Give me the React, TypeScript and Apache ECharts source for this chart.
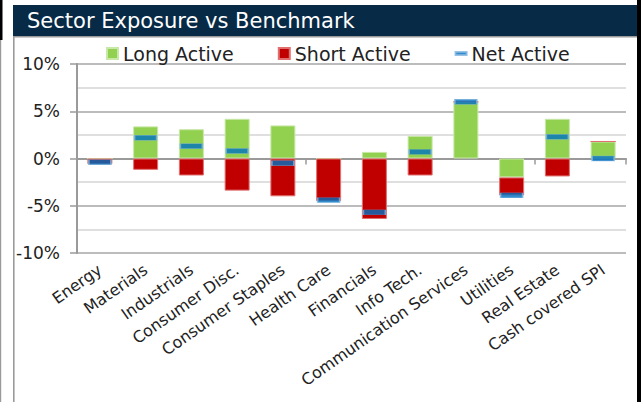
import React, { useEffect, useRef } from "react";
import * as echarts from "echarts";

const categories = [
  "Energy",
  "Materials",
  "Industrials",
  "Consumer Disc.",
  "Consumer Staples",
  "Health Care",
  "Financials",
  "Info Tech.",
  "Communication Services",
  "Utilities",
  "Real Estate",
  "Cash covered SPI",
];
const longActive = [0, 3.4, 3.1, 4.2, 3.5, 0, 0.7, 2.4, 6.0, -2.0, 4.2, 1.8];
const shortActive = [-0.6, -1.2, -1.8, -3.4, -4.0, -4.5, -6.4, -1.8, 0, -1.9, -1.9, 0];
const netActive = [-0.4, 2.2, 1.3, 0.8, -0.5, -4.4, -5.7, 0.7, 6.0, -3.9, 2.3, 0.0];
const yTicks = [-10, -5, 0, 5, 10];

const FONT = "'DejaVu Sans', sans-serif";

export default function App() {
  const ref = useRef<HTMLDivElement>(null);
  useEffect(() => {
    if (!ref.current) return;
    const chart = echarts.init(ref.current, undefined, { renderer: "svg" });
    chart.setOption({
      animation: false,
      backgroundColor: "#ffffff",
      textStyle: { fontFamily: FONT },
      graphic: [
        { type: "rect", shape: { x: 0, y: 0, width: 2.5, height: 40 }, style: { fill: "#000" } },
        { type: "rect", shape: { x: 0, y: 40, width: 1.2, height: 362 }, style: { fill: "#9a9a9a" } },
        { type: "rect", shape: { x: 13, y: 36, width: 1.6, height: 366 }, style: { fill: "#9a9a9a" } },
        { type: "rect", shape: { x: 13, y: 36, width: 624, height: 1.6 }, style: { fill: "#9a9a9a" } },
        { type: "rect", shape: { x: 13, y: 5, width: 624, height: 31 }, style: { fill: "#072a46" } },
        { type: "rect", shape: { x: 637, y: 0, width: 4, height: 402 }, style: { fill: "#000" } },
        {
          type: "text",
          x: 27,
          y: 21,
          style: {
            text: "Sector Exposure vs Benchmark",
            fill: "#ffffff",
            font: `normal 21px ${FONT}`,
            verticalAlign: "middle",
          },
        },
      ],
      legend: {
        left: 101,
        top: 39,
        itemGap: 44,
        itemWidth: 11,
        itemHeight: 11,
        textStyle: { fontSize: 19, color: "#222", fontFamily: FONT, padding: [0, 0, 0, 0] },
        data: [
          { name: "Long Active", icon: "rect" },
          { name: "Short Active", icon: "rect" },
          { name: "Net Active", icon: "path://M0,0 M10,10 M0,3.7 L10,3.7 L10,6.3 L0,6.3 Z" },
        ],
      },
      grid: { left: 77, right: 15, top: 64, bottom: 149, containLabel: false },
      xAxis: [
        {
          type: "category",
          data: categories,
          axisLine: { onZero: true, lineStyle: { color: "#9a9a9a", width: 2 } },
          axisTick: { show: true, length: 6, lineStyle: { color: "#9a9a9a", width: 1.5 } },
          axisLabel: { show: false },
        },
        {
          type: "category",
          data: categories,
          position: "bottom",
          axisLine: { show: false, onZero: false },
          axisTick: { show: false },
          axisLabel: {
            rotate: 35,
            margin: 15,
            fontSize: 16,
            color: "#222",
            fontFamily: FONT,
            interval: 0,
          },
        },
      ],
      yAxis: {
        type: "value",
        min: -10,
        max: 10,
        interval: 5,
        axisLine: { show: true, lineStyle: { color: "#9a9a9a", width: 2 } },
        axisTick: { show: true, length: 7, lineStyle: { color: "#9a9a9a", width: 1.5 } },
        axisLabel: {
          fontSize: 17,
          color: "#222",
          fontFamily: FONT,
          margin: 17,
          formatter: (v: number) => (yTicks.includes(v) ? `${v}%` : ""),
        },
        splitLine: { show: true, lineStyle: { color: "#a6a6a6", width: 1.5 } },
        minorTick: { show: false, splitNumber: 2 },
        minorSplitLine: { show: true, lineStyle: { color: "#d4d4d4", width: 1.5 } },
      },
      series: [
        {
          name: "Long Active",
          type: "bar",
          stack: "active",
          data: longActive,
          barWidth: 25,
          itemStyle: { color: "#92d050", borderColor: "#c8e8a8", borderWidth: 1 },
        },
        {
          name: "Short Active",
          type: "bar",
          stack: "active",
          data: shortActive,
          barWidth: 25,
          itemStyle: { color: "#c00000", borderColor: "#e07070", borderWidth: 1 },
        },
        {
          name: "Net Active",
          type: "scatter",
          data: netActive,
          symbol: "rect",
          symbolSize: [22, 5],
          z: 5,
          itemStyle: { color: "#0070c0", borderColor: "#7fb4df", borderWidth: 0.8 },
        },
      ],
    });
    return () => chart.dispose();
  }, []);
  return (
    <div
      ref={ref}
      style={{ position: "fixed", left: 0, top: 0, width: 641, height: 402 }}
    />
  );
}
